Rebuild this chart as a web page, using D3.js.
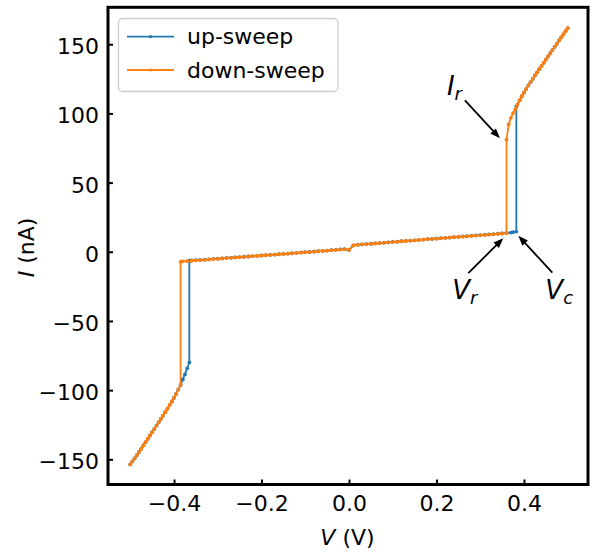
<!DOCTYPE html>
<html>
<head>
<meta charset="utf-8">
<script src="https://cdn.jsdelivr.net/npm/d3@7"></script>
<style>
  html, body { margin: 0; padding: 0; background: #fff; }
  svg { display: block; font-family: "DejaVu Sans", sans-serif; }
</style>
</head>
<body>
<svg id="chart" width="595" height="552"></svg>
<script>
// Current–voltage sweep of a threshold-switching device (V in volts, I in nA)

const upV = [-0.5,-0.495,-0.49,-0.485,-0.48,-0.475,-0.47,-0.465,-0.46,-0.455,-0.45,-0.445,-0.44,-0.435,-0.43,-0.425,-0.42,-0.415,-0.41,-0.405,-0.4,-0.395,-0.39,-0.385,-0.38,-0.375,-0.37,-0.365,
  -0.365,-0.36,-0.35,-0.34,-0.33,-0.32,-0.31,-0.3,-0.29,-0.28,-0.27,-0.26,-0.25,-0.24,-0.23,-0.22,-0.21,-0.2,-0.19,-0.18,-0.17,-0.16,-0.15,-0.14,-0.13,-0.12,-0.11,-0.1,-0.09,-0.08,-0.07,-0.06,-0.05,-0.04,-0.03,-0.02,-0.01,0,
  0.01,0.02,0.03,0.04,0.05,0.06,0.07,0.08,0.09,0.1,0.11,0.12,0.13,0.14,0.15,0.16,0.17,0.18,0.19,0.2,0.21,0.22,0.23,0.24,0.25,0.26,0.27,0.28,0.29,0.3,0.31,0.32,0.33,0.34,0.35,0.36,
  0.37,0.375,0.3825,0.3825,0.39,0.395,0.4,0.405,0.41,0.415,0.42,0.425,0.43,0.435,0.44,0.445,0.45,0.455,0.46,0.465,0.47,0.475,0.48,0.485,0.49,0.495,0.5];
const upI = [-153.7,-151.5,-149.3,-147.0,-144.7,-142.4,-140.0,-137.6,-135.2,-132.8,-130.4,-128.0,-125.6,-123.2,-120.8,-118.4,-115.9,-113.4,-110.8,-108.2,-105.5,-102.6,-99.5,-96.3,-92.3,-88.6,-84.2,-80.0,
  -6.4,-6.3,-6.1,-5.9,-5.7,-5.5,-5.2,-5.0,-4.8,-4.5,-4.3,-4.1,-3.8,-3.6,-3.4,-3.1,-2.9,-2.7,-2.4,-2.2,-2.0,-1.7,-1.5,-1.3,-1.0,-0.8,-0.5,-0.3,-0.1,0.2,0.4,0.7,0.9,1.2,1.4,1.7,1.9,1.4,
  4.6,5.1,5.3,5.6,5.8,6.1,6.3,6.6,6.8,7.1,7.3,7.6,7.8,8.1,8.3,8.6,8.8,9.1,9.3,9.6,9.8,10.1,10.3,10.6,10.8,11.1,11.3,11.6,11.8,12.1,12.3,12.6,12.8,13.1,13.3,13.6,
  13.9,14.2,14.6,105.0,109.5,112.4,115.1,117.7,120.2,122.6,125.0,127.4,129.7,132.0,134.3,136.6,138.9,141.2,143.5,145.8,148.1,150.4,152.7,154.9,157.2,159.4,161.6];

const downV = [0.5,0.495,0.49,0.485,0.48,0.475,0.47,0.465,0.46,0.455,0.45,0.445,0.44,0.435,0.43,0.425,0.42,0.415,0.41,0.405,0.4,0.395,0.39,0.385,0.38,0.375,0.37,0.365,0.36,
  0.36,0.35,0.34,0.33,0.32,0.31,0.3,0.29,0.28,0.27,0.26,0.25,0.24,0.23,0.22,0.21,0.2,0.19,0.18,0.17,0.16,0.15,0.14,0.13,0.12,0.11,0.1,0.09,0.08,0.07,0.06,0.05,0.04,0.03,0.02,0.01,0,
  -0.01,-0.02,-0.03,-0.04,-0.05,-0.06,-0.07,-0.08,-0.09,-0.1,-0.11,-0.12,-0.13,-0.14,-0.15,-0.16,-0.17,-0.18,-0.19,-0.2,-0.21,-0.22,-0.23,-0.24,-0.25,-0.26,-0.27,-0.28,-0.29,-0.3,-0.31,-0.32,-0.33,-0.34,-0.35,-0.36,-0.37,-0.38,
  -0.385,-0.385,-0.39,-0.395,-0.4,-0.405,-0.41,-0.415,-0.42,-0.425,-0.43,-0.435,-0.44,-0.445,-0.45,-0.455,-0.46,-0.465,-0.47,-0.475,-0.48,-0.485,-0.49,-0.495,-0.5];
const downI = [161.6,159.4,157.2,154.9,152.7,150.4,148.1,145.8,143.5,141.2,138.9,136.6,134.3,132.0,129.7,127.4,125.0,122.6,120.2,117.7,115.1,112.4,109.5,106.3,103.0,100.2,96.8,92.0,81.0,
  13.4,13.2,12.9,12.6,12.4,12.2,11.9,11.7,11.5,11.1,10.9,10.7,10.5,10.3,10.0,9.7,9.5,9.3,9.1,8.8,8.5,8.2,8.0,7.8,7.6,7.3,7.0,6.8,6.6,6.2,6.0,5.8,5.5,5.3,5.0,4.6,1.3,
  1.9,1.6,1.4,1.1,0.8,0.6,0.4,0.1,-0.2,-0.4,-0.6,-0.8,-1.1,-1.4,-1.6,-1.8,-2.0,-2.3,-2.5,-2.7,-3.0,-3.2,-3.4,-3.7,-3.9,-4.1,-4.4,-4.6,-4.8,-5.1,-5.3,-5.5,-5.8,-6.0,-6.2,-6.5,-6.7,-7.0,
  -7.2,-96.3,-99.5,-102.6,-105.5,-108.2,-110.8,-113.4,-115.9,-118.4,-120.8,-123.2,-125.6,-128.0,-130.4,-132.8,-135.2,-137.6,-140.0,-142.4,-144.7,-147.0,-149.3,-151.5,-153.7];

const seriesNames = ["up-sweep", "down-sweep"];
const seriesColors = ["#1f77b4", "#ff7f0e"];
const xTicks = [-0.4, -0.2, 0.0, 0.2, 0.4];
const yTicks = [-150, -100, -50, 0, 50, 100, 150];

// Annotated points: arrow tip in data units, arrow tail and label in pixel offsets from the tip
const noteLabels = ["I", "V", "V"];
const noteSubs = ["r", "r", "c"];
const noteTipV = [0.345, 0.3527, 0.3871];
const noteTipI = [82.0, 9.8, 11.6];
const noteTail = [[-35, -38], [-35, 35], [34, 37]];
const noteText = [[-53, -43], [-51, 61], [27, 63]];

const svg = d3.select("#chart");
const plotLeft = 108, plotRight = 588, plotTop = 7.3, plotBottom = 484.5;

const x = d3.scaleLinear().domain([-0.5509, 0.5463]).range([plotLeft, plotRight]);
const y = d3.scaleLinear().domain([-168.2, 176.7]).range([plotBottom, plotTop]);

svg.append("rect").attr("width", 595).attr("height", 552).attr("fill", "#fff");

// Axes with inward ticks
const fmt = d3.format(".1f");
const xAxis = svg.append("g").attr("transform", `translate(0,${plotBottom})`)
  .call(d3.axisBottom(x).tickValues(xTicks).tickFormat(fmt).tickSizeInner(-5).tickSizeOuter(0).tickPadding(11));
const yAxis = svg.append("g").attr("transform", `translate(${plotLeft},0)`)
  .call(d3.axisLeft(y).tickValues(yTicks).tickFormat(d3.format("d")).tickSizeInner(-5).tickSizeOuter(0).tickPadding(9));
[xAxis, yAxis].forEach(g => {
  g.select(".domain").remove();
  g.selectAll(".tick line").attr("stroke", "#000").attr("stroke-width", 2);
  g.selectAll(".tick text").attr("fill", "#000").style("font-size", "22px").style("font-family", "DejaVu Sans");
});
yAxis.selectAll(".tick text").attr("dy", "0.43em");

// Curves: line plus small round markers at every sample
const line = d3.line().x(d => x(d[0])).y(d => y(d[1]));
const series = [d3.zip(upV, upI), d3.zip(downV, downI)];
series.forEach((pts, k) => {
  const g = svg.append("g");
  g.append("path").datum(pts).attr("d", line)
    .attr("fill", "none").attr("stroke", seriesColors[k]).attr("stroke-width", 1.8)
    .attr("stroke-linejoin", "round");
  g.selectAll("circle").data(pts).join("circle")
    .attr("cx", d => x(d[0])).attr("cy", d => y(d[1])).attr("r", 1.9)
    .attr("fill", seriesColors[k]);
});

// Frame
svg.append("rect").attr("x", plotLeft).attr("y", plotTop)
  .attr("width", plotRight - plotLeft).attr("height", plotBottom - plotTop)
  .attr("fill", "none").attr("stroke", "#000").attr("stroke-width", 3);

// Legend
const lg = svg.append("g");
lg.append("rect").attr("x", 118.5).attr("y", 18.5).attr("width", 219.5).attr("height", 73)
  .attr("rx", 4).attr("fill", "#fff").attr("fill-opacity", 0.8).attr("stroke", "#cccccc").attr("stroke-width", 1.3);
seriesNames.forEach((name, k) => {
  const yy = 36.7 + k * 33.3;
  lg.append("line").attr("x1", 127).attr("x2", 174).attr("y1", yy).attr("y2", yy)
    .attr("stroke", seriesColors[k]).attr("stroke-width", 1.8);
  lg.append("circle").attr("cx", 150.5).attr("cy", yy).attr("r", 1.6).attr("fill", seriesColors[k]);
  lg.append("text").attr("x", 187).attr("y", yy + 7.5).text(name)
    .style("font-size", "22px").attr("fill", "#000");
});

// Axis labels
const xl = svg.append("text").attr("x", 347.5).attr("y", 545).attr("text-anchor", "middle")
  .style("font-size", "22px").attr("fill", "#000");
xl.append("tspan").attr("font-style", "italic").text("V");
xl.append("tspan").text(" (V)");
const yl = svg.append("text").attr("transform", "translate(33.5,247.5) rotate(-90)").attr("text-anchor", "middle")
  .style("font-size", "22px").attr("fill", "#000");
yl.append("tspan").attr("font-style", "italic").text("I");
yl.append("tspan").text(" (nA)");

// Annotations with filled arrowheads
noteLabels.forEach((lab, k) => {
  const tx = x(noteTipV[k]), ty = y(noteTipI[k]);
  const sx = tx + noteTail[k][0], sy = ty + noteTail[k][1];
  const dx = tx - sx, dy = ty - sy, len = Math.hypot(dx, dy);
  const ux = dx / len, uy = dy / len;
  const hl = 10, hw = 3.8;
  const bx = tx - ux * hl, by = ty - uy * hl;
  svg.append("line").attr("x1", sx).attr("y1", sy).attr("x2", bx + ux).attr("y2", by + uy)
    .attr("stroke", "#000").attr("stroke-width", 1.8);
  svg.append("path")
    .attr("d", `M${tx},${ty}L${bx - uy * hw},${by + ux * hw}L${bx + uy * hw},${by - ux * hw}Z`)
    .attr("fill", "#000");
  const t = svg.append("text").attr("x", tx + noteText[k][0]).attr("y", ty + noteText[k][1])
    .style("font-size", "26px").attr("font-style", "italic").attr("fill", "#000");
  t.append("tspan").text(lab);
  t.append("tspan").attr("dy", 5).style("font-size", "18px").text(noteSubs[k]);
});
</script>
</body>
</html>
